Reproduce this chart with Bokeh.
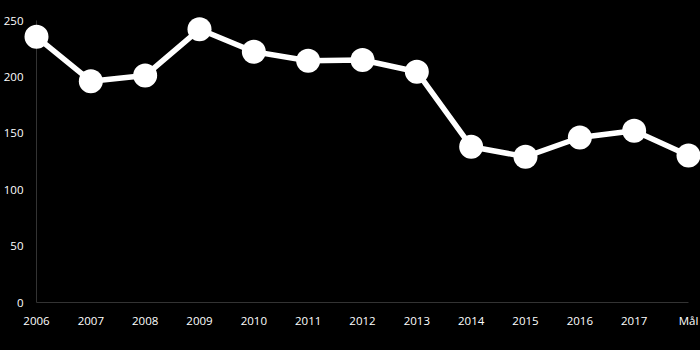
from bokeh.plotting import figure
from bokeh.models import Range1d, LinearAxis, FixedTicker
from bokeh.embed import file_html
from bokeh.resources import INLINE

# ---- data ----
categories = ["2006", "2007", "2008", "2009", "2010", "2011", "2012",
              "2013", "2014", "2015", "2016", "2017", "Mål"]
values = [235.5, 196.2, 201.2, 242.2, 222.3, 214.3, 215.0,
          204.6, 138.1, 129.2, 146.3, 152.2, 130.3]
y_ticks = [0, 50, 100, 150, 200, 250]

x = list(range(len(categories)))

W, H = 700, 350
# pixel placement of the data area inside the full-size frame
left_px, right_px = 36, 688      # x of first / last category
top_px, bottom_px = 20, 302      # y (from top) of 250 / 0
y_max = y_ticks[-1]

sx = (right_px - left_px) / (len(categories) - 1)
sy = (bottom_px - top_px) / y_max

x_range = Range1d(-left_px / sx, (len(categories) - 1) + (W - right_px) / sx)
y_range = Range1d(-(H - bottom_px) / sy, y_max + top_px / sy)

p = figure(width=W, height=H, x_range=x_range, y_range=y_range,
           output_backend="svg", toolbar_location=None,
           x_axis_type=None, y_axis_type=None,
           min_border=0, min_border_left=0, min_border_right=0,
           min_border_top=0, min_border_bottom=0)
p.background_fill_color = "black"
p.border_fill_color = "black"
p.outline_line_color = None
p.styles = {"background-color": "black"}
p.xgrid.visible = False
p.ygrid.visible = False

FONT = "Open Sans"

xaxis = LinearAxis(fixed_location=0, ticker=FixedTicker(ticks=x),
                   major_label_overrides={i: c for i, c in zip(x, categories)},
                   bounds=(0, len(categories) - 1))
yaxis = LinearAxis(fixed_location=0, ticker=FixedTicker(ticks=y_ticks),
                   bounds=(0, y_max))
for ax in (xaxis, yaxis):
    ax.level = "underlay"
    ax.axis_line_color = "#333333"
    ax.axis_line_width = 1
    ax.major_tick_line_color = None
    ax.minor_tick_line_color = None
    ax.major_label_text_color = "white"
    ax.major_label_text_font = FONT
    ax.major_label_text_font_size = "11.5px"
xaxis.major_label_standoff = 4
yaxis.major_label_standoff = 7
p.add_layout(xaxis, "below")
p.add_layout(yaxis, "left")

p.line(x, values, line_color="white", line_width=5.5, line_join="round")
p.scatter(x, values, size=24, fill_color="white", line_color=None)

html = file_html(p, INLINE)
html = html.replace(
    "</head>",
    "<style>html,body{background:#000 !important;margin:0;padding:0;}</style></head>", 1)
open("out.html", "w").write(html)
